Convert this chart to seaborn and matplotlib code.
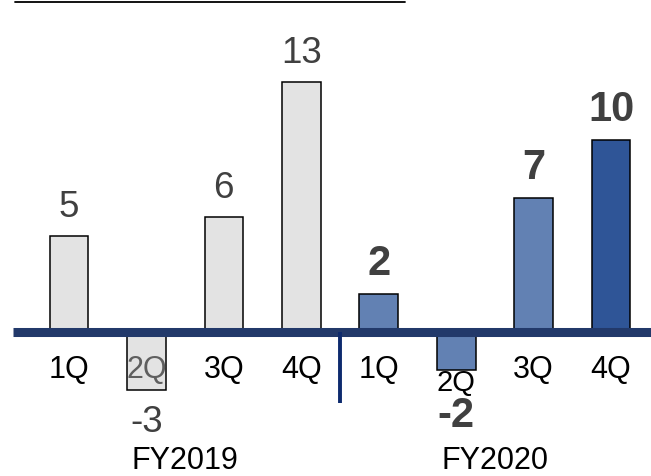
import matplotlib
matplotlib.use("Agg")
import matplotlib.pyplot as plt
from matplotlib.lines import Line2D
import seaborn as sns

# Quarterly results, two fiscal years
fiscal_years = ["FY2019"] * 4 + ["FY2020"] * 4
quarters = ["1Q", "2Q", "3Q", "4Q"] * 2
values = [5, -3, 6, 13, 2, -2, 7, 10]
bar_colors = ["#e3e3e3"] * 4 + ["#6281b3", "#6281b3", "#6281b3", "#2f5597"]

sns.set_theme(style="white")
plt.rcParams["font.family"] = ["Liberation Sans", "DejaVu Sans"]

keys = [f"{fy} {q}" for fy, q in zip(fiscal_years, quarters)]

fig = plt.figure(figsize=(6.51, 4.76), dpi=100)
ax = fig.add_axes([0, 0, 1, 1])

sns.barplot(x=keys, y=values, hue=keys, order=keys, hue_order=keys,
            palette=bar_colors, legend=False, width=0.5,
            edgecolor="black", linewidth=1.1, saturation=1, ax=ax)

# scale: zero line 332 px from top, 19.2 px per unit, 77.4 px per bar slot
px_unit = 19.2
slot = 77.43
ax.set_ylim(-(476 - 332) / px_unit, 332 / px_unit)
ax.set_xlim(-69 / slot, (651 - 69) / slot)
ax.axis("off")

# zero baseline
ax.axhline(0, xmin=13 / 651, xmax=1, color="#22396a", lw=6.5, zorder=5,
           solid_capstyle="butt")

# separator between the fiscal years
n_q = 4
sep_x = n_q - 0.5
ax.plot([sep_x, sep_x], [0, -71 / px_unit], color="#0d2a6e", lw=2.8,
        zorder=6, solid_capstyle="butt")

label_color = "#404040"
for i, (fy, q, v) in enumerate(zip(fiscal_years, quarters, values)):
    bold = fy == "FY2020"
    vsize = 30 if bold else 26.5
    weight = "bold" if bold else "normal"
    # quarter label
    if v < 0 and bold:
        ax.annotate(q, xy=(i, v), xytext=(0, -21), textcoords="offset pixels",
                    ha="center", va="baseline", fontsize=21, color="black",
                    zorder=7)
        ax.annotate(f"{v}", xy=(i, v), xytext=(0, -26),
                    textcoords="offset pixels", ha="center", va="top",
                    fontsize=vsize, fontweight=weight, color=label_color,
                    zorder=7)
    else:
        qcolor = "#5f5f5f" if v < 0 else "black"
        ax.annotate(q, xy=(i, 0), xytext=(0, -46), textcoords="offset pixels",
                    ha="center", va="baseline", fontsize=22, color=qcolor,
                    zorder=7)
        if v < 0:
            ax.annotate(f"{v}", xy=(i, v), xytext=(0, -15),
                        textcoords="offset pixels", ha="center", va="top",
                        fontsize=vsize, fontweight=weight, color=label_color,
                        zorder=7)
        else:
            ax.annotate(f"{v}", xy=(i, v), xytext=(0, 19),
                        textcoords="offset pixels", ha="center",
                        va="baseline", fontsize=vsize, fontweight=weight,
                        color=label_color, zorder=7)

# fiscal year captions under each group
for g, fy in enumerate(["FY2019", "FY2020"]):
    center = g * n_q + (n_q - 1) / 2
    ax.annotate(fy, xy=(center, 0), xytext=(0, -137),
                textcoords="offset pixels", ha="center", va="baseline",
                fontsize=22, color="black")

# underline of the heading along the top edge
fig.add_artist(Line2D([15 / 651, 405 / 651], [1 - 1.5 / 476] * 2,
                      transform=fig.transFigure, color="black", lw=1.3))

fig.savefig("out.png", dpi=100)
